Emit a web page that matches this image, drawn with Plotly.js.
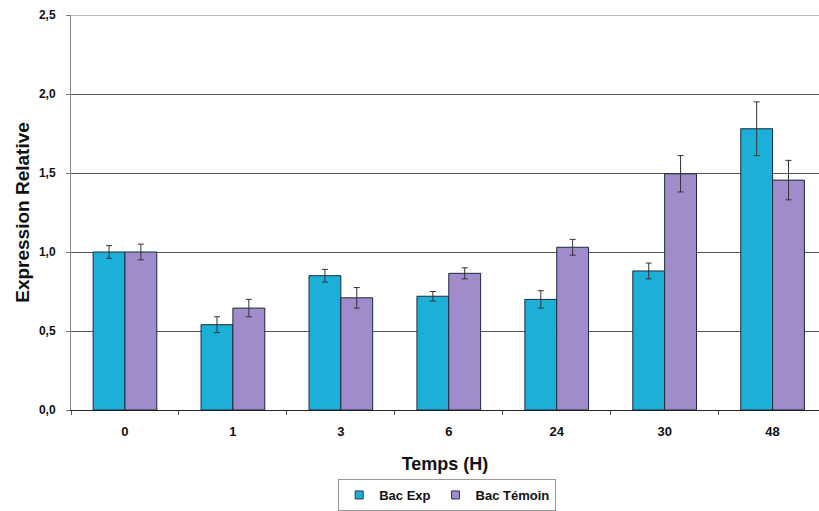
<!DOCTYPE html>
<html>
<head>
<meta charset="utf-8">
<script src="https://cdn.plot.ly/plotly-3.0.1.min.js"></script>
<style>html,body{margin:0;padding:0;background:#fff}#chart{width:819px;height:511px}</style>
</head>
<body>
<div id="chart"></div>
<script>
const categories = ["0", "1", "3", "6", "24", "30", "48"];
const expValues = [1.00, 0.54, 0.85, 0.72, 0.70, 0.88, 1.78];
const expErrors = [0.04, 0.05, 0.04, 0.03, 0.055, 0.05, 0.17];
const temoinValues = [1.00, 0.645, 0.71, 0.865, 1.03, 1.495, 1.455];
const temoinErrors = [0.05, 0.055, 0.065, 0.035, 0.05, 0.115, 0.125];
const seriesNames = ["Bac Exp", "Bac Témoin"];
const seriesColors = ["#1cb0d8", "#a08ccb"];
const yTicks = [0, 0.5, 1.0, 1.5, 2.0, 2.5];

const boldFont = {family: "Liberation Sans, Arial, sans-serif", color: "#111", weight: "bold"};

const traces = [
  {
    type: "bar", name: seriesNames[0], x: categories, y: expValues, showlegend: false,
    marker: {color: seriesColors[0], line: {color: "#1a2a3a", width: 1}},
    error_y: {type: "data", array: expErrors, visible: true, color: "#333", thickness: 1, width: 3}
  },
  {
    type: "bar", name: seriesNames[1], x: categories, y: temoinValues, showlegend: false,
    marker: {color: seriesColors[1], line: {color: "#1a2a3a", width: 1}},
    error_y: {type: "data", array: temoinErrors, visible: true, color: "#333", thickness: 1, width: 3}
  },
  {
    type: "scatter", mode: "markers", name: seriesNames[0], x: [categories[0]], y: [null],
    marker: {symbol: "square", size: 8, color: seriesColors[0], line: {color: "#335", width: 1}}
  },
  {
    type: "scatter", mode: "markers", name: seriesNames[1], x: [categories[0]], y: [null],
    marker: {symbol: "square", size: 8, color: seriesColors[1], line: {color: "#335", width: 1}}
  }
];

const layout = {
  width: 819, height: 511,
  margin: {l: 71, r: 0, t: 15, b: 101},
  paper_bgcolor: "#fff", plot_bgcolor: "#fff",
  separators: ", ",
  barmode: "group", bargap: 0.41, bargroupgap: 0,
  showlegend: true,
  legend: {
    orientation: "h", xref: "container", yref: "container",
    x: 0.546, xanchor: "center", y: 0.0, yanchor: "bottom",
    bordercolor: "#999", borderwidth: 1, bgcolor: "#fff",
    font: Object.assign({size: 13}, boldFont),
    itemwidth: 30, tracegroupgap: 0
  },
  xaxis: {
    type: "category", range: [-0.5, 6.43], automargin: false,
    tickson: "boundaries", ticks: "outside", ticklen: 4, tickcolor: "#555",
    showline: true, linecolor: "#222", linewidth: 1,
    showgrid: false, zeroline: false,
    tickfont: Object.assign({size: 13}, boldFont),
    ticklabelstandoff: 9,
    title: {text: "Temps (H)", font: Object.assign({size: 18}, boldFont), standoff: 19}
  },
  yaxis: {
    range: [0, 2.5], tickvals: yTicks, tickformat: ".1f", automargin: false,
    ticks: "outside", ticklen: 4, tickcolor: "#777",
    showline: true, linecolor: "#888", linewidth: 1,
    showgrid: true, gridcolor: "#555", gridwidth: 1, zeroline: false,
    tickfont: Object.assign({size: 12}, boldFont),
    ticklabelstandoff: 8,
    title: {text: "Expression Relative", font: Object.assign({size: 19}, boldFont), standoff: 4}
  },
  shapes: [
    {type: "line", xref: "paper", yref: "y", x0: 0, x1: 1, y0: yTicks[yTicks.length - 1], y1: yTicks[yTicks.length - 1],
     line: {color: "#777", width: 1}, layer: "below"}
  ]
};

Plotly.newPlot("chart", traces, layout, {displayModeBar: false, staticPlot: true});
</script>
</body>
</html>
